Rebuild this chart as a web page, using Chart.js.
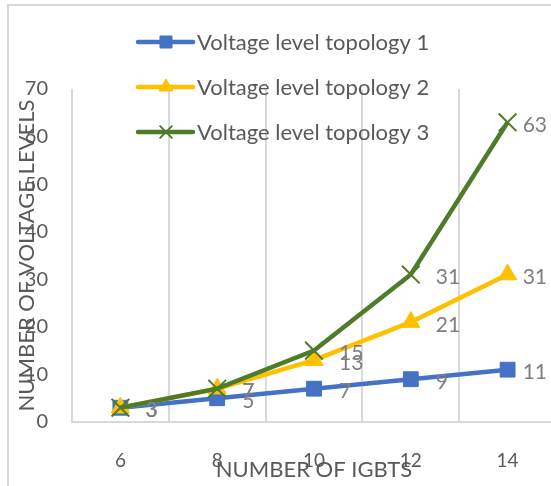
<!DOCTYPE html>
<html>
<head>
<meta charset="utf-8">
<script src="https://cdn.jsdelivr.net/npm/chart.js@4.4.1/dist/chart.umd.min.js"></script>
<style>
  html, body { margin: 0; padding: 0; background: #ffffff; }
  #wrap { position: relative; width: 551px; height: 486px; overflow: hidden; background: #ffffff; }
  #frame { position: absolute; left: 7px; top: 4px; width: 700px; height: 700px; border: 2px solid #d9d9d9; box-sizing: border-box; }
  #c { position: absolute; left: 0; top: 0; }
</style>
</head>
<body>
<div id="wrap">
  <div id="frame"></div>
  <canvas id="c" width="600" height="486"></canvas>
</div>
<script>
// ---- data ----
const categories = ['6', '8', '10', '12', '14'];
const seriesNames = ['Voltage level topology 1', 'Voltage level topology 2', 'Voltage level topology 3'];
const topology1 = [3, 5, 7, 9, 11];
const topology2 = [3, 7, 13, 21, 31];
const topology3 = [3, 7, 15, 31, 63];
const yMin = 0, yMax = 70, yStep = 10;
const xTitle = 'NUMBER OF IGBTS';
const yTitle = 'NUMBER OF VOLTAGE LEVELS';

// ---- styles ----
const FONT = 'Lato, Carlito, Calibri, "Open Sans", sans-serif';
const colors = ['#4472C4', '#FFC000', '#4E7C2A'];
const styles = [
  { pointStyle: 'rect', radius: 10.5, borderWidth: 1, legendRadius: 8.5 },
  { pointStyle: 'triangle', radius: 10.5, borderWidth: 1, legendRadius: 8 },
  { pointStyle: 'crossRot', radius: 12.5, borderWidth: 2, legendRadius: 9 }
];
const values = [topology1, topology2, topology3];

const datasets = values.map((v, i) => ({
  label: seriesNames[i],
  data: v,
  borderColor: colors[i],
  backgroundColor: colors[i],
  borderWidth: 4.5,
  tension: 0,
  pointStyle: styles[i].pointStyle,
  pointRadius: styles[i].radius,
  pointBorderWidth: styles[i].borderWidth,
  pointBackgroundColor: colors[i],
  pointBorderColor: colors[i],
  order: 3 - i
}));

const customLegend = {
  id: 'customLegend',
  afterDraw(chart) {
    const ctx = chart.ctx;
    ctx.save();
    const rows = [42, 87, 132];
    const x1 = 138, x2 = 193, tx = 197;
    chart.data.datasets.forEach((ds, i) => {
      const y = rows[i];
      ctx.strokeStyle = ds.borderColor;
      ctx.lineWidth = 4.5;
      ctx.lineCap = 'round';
      ctx.beginPath(); ctx.moveTo(x1, y); ctx.lineTo(x2, y); ctx.stroke();
      ctx.fillStyle = ds.backgroundColor;
      ctx.strokeStyle = ds.borderColor;
      ctx.lineWidth = ds.pointBorderWidth;
      ctx.lineCap = 'butt';
      Chart.helpers.drawPoint(ctx, {
        pointStyle: ds.pointStyle, radius: styles[i].legendRadius, rotation: 0,
        borderWidth: ds.pointBorderWidth
      }, (x1 + x2) / 2 + 0.5, y);
      ctx.fillStyle = '#595959';
      ctx.font = '22px ' + FONT;
      ctx.textAlign = 'left';
      ctx.textBaseline = 'middle';
      ctx.fillText(ds.label, tx, y + 1);
    });
    ctx.restore();
  }
};

const dataLabels = {
  id: 'dataLabels',
  afterDatasetsDraw(chart) {
    const ctx = chart.ctx;
    ctx.save();
    ctx.font = '21px ' + FONT;
    ctx.fillStyle = '#7f7f7f';
    ctx.textAlign = 'left';
    ctx.textBaseline = 'middle';
    chart.data.datasets.forEach((ds, i) => {
      const meta = chart.getDatasetMeta(i);
      meta.data.forEach((pt, j) => {
        const txt = String(ds.data[j]);
        const w = ctx.measureText(txt).width;
        const x = Math.min(pt.x + 25, 547 - w);
        ctx.fillText(txt, x, pt.y + 3);
      });
    });
    ctx.restore();
  }
};

new Chart(document.getElementById('c'), {
  type: 'line',
  data: { labels: categories, datasets },
  options: {
    responsive: false,
    animation: false,
    devicePixelRatio: 1,
    layout: { padding: { top: 89, right: 44, bottom: 0, left: 0 } },
    plugins: { legend: { display: false }, tooltip: { enabled: false } },
    scales: {
      x: {
        offset: true,
        grid: { display: true, offset: true, color: '#d9d9d9', lineWidth: 2, drawTicks: false },
        border: { display: true, color: '#d9d9d9', width: 2 },
        ticks: { color: '#595959', font: { family: FONT, size: 19 }, padding: 27, maxRotation: 0, autoSkip: false },
        title: { display: true, text: xTitle, color: '#595959', font: { family: FONT, size: 22 }, padding: { top: 4, bottom: 3 } },
        afterFit(scale) { scale.height = 64; }
      },
      y: {
        min: yMin, max: yMax,
        grid: { display: false, drawTicks: false },
        border: { display: false },
        ticks: { stepSize: yStep, color: '#595959', font: { family: FONT, size: 20 }, padding: 24 },
        title: { display: true, text: yTitle, color: '#595959', font: { family: FONT, size: 22 }, padding: { top: 14, bottom: 4 } },
        afterFit(scale) { scale.width = 72; }
      }
    }
  },
  plugins: [customLegend, dataLabels]
});
</script>
</body>
</html>
